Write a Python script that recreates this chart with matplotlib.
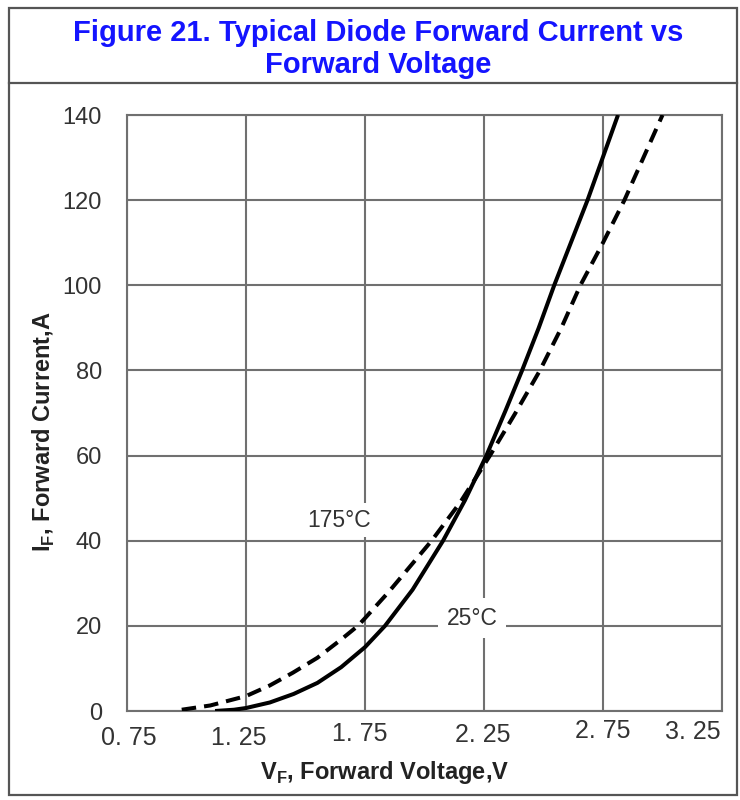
import matplotlib
matplotlib.use("Agg")
import matplotlib.pyplot as plt
from matplotlib.patches import Rectangle
from matplotlib.lines import Line2D
import matplotlib.transforms as mtransforms

# ---- data ----
title_text = "Figure 21. Typical Diode Forward Current vs\nForward Voltage"
x_ticks = [0.75, 1.25, 1.75, 2.25, 2.75, 3.25]
x_ticklabels = ["0. 75", "1. 25", "1. 75", "2. 25", "2. 75", "3. 25"]
y_ticks = [0, 20, 40, 60, 80, 100, 120, 140]

v_25 = [1.12, 1.20, 1.25, 1.35, 1.45, 1.55, 1.65, 1.75, 1.834, 1.95, 2.078, 2.17, 2.26, 2.34, 2.41, 2.48, 2.545, 2.685, 2.813]
i_25 = [0.0, 0.3, 0.7, 2.0, 4.0, 6.6, 10.3, 15.0, 20.0, 28.5, 40.0, 49.5, 60.0, 70.5, 80.0, 90.0, 100.0, 120.0, 140.0]

v_175 = [0.98, 1.10, 1.25, 1.35, 1.447, 1.55, 1.65, 1.72, 1.75, 1.85, 2.03, 2.15, 2.275, 2.38, 2.485, 2.575, 2.655, 2.75, 2.84, 3.00]
i_175 = [0.3, 1.3, 3.5, 6.0, 9.0, 12.5, 16.8, 20.0, 21.8, 28.0, 40.0, 49.0, 60.0, 69.8, 80.0, 90.0, 100.0, 110.0, 120.0, 140.0]

label_175 = "175\u00b0C"
label_25 = "25\u00b0C"

# ---- figure ----
plt.rcParams['font.family'] = ['Liberation Sans', 'DejaVu Sans']
W, H = 740, 800
fig = plt.figure(figsize=(7.4, 8.0), dpi=100)

# outer border and title separator
fig.patches.append(Rectangle((9 / W, 1 - 795 / H), 728 / W, 787 / H, transform=fig.transFigure,
                             fill=False, edgecolor='#555555', linewidth=1.6))
fig.lines.append(Line2D([9 / W, 737 / W], [1 - 83 / H, 1 - 83 / H], transform=fig.transFigure,
                        color='#555555', linewidth=1.6))
fig.text(378 / W, 1 - 49 / H, title_text, ha='center', va='center', color='#1414ff',
         fontsize=21, fontweight='bold', linespacing=1.22)

ax = fig.add_axes([127 / W, 1 - 711 / H, 595 / W, 596 / H])
ax.set_xlim(0.75, 3.25)
ax.set_ylim(0, 140)

grid_c = '#707070'
ax.set_xticks(x_ticks)
ax.set_xticklabels(x_ticklabels)
ax.set_yticks(y_ticks)
ax.grid(True, color=grid_c, linewidth=1.5)
ax.set_axisbelow(True)
for s in ax.spines.values():
    s.set_color(grid_c)
    s.set_linewidth(1.5)
ax.tick_params(axis='both', length=0, labelcolor='#333333')
ax.tick_params(axis='y', pad=18, labelsize=17)
ax.tick_params(axis='x', pad=11, labelsize=18)

# per-label offsets (pixels) to mimic the scanned layout
x_off = [(2, 0), (-7, 0), (-5, 4), (-1, 3), (0, 7), (-29, 6)]
for lab, (dx, dy) in zip(ax.get_xticklabels(), x_off):
    lab.set_transform(lab.get_transform() + mtransforms.ScaledTranslation(dx / 100, dy / 100, fig.dpi_scale_trans))

ax.plot(v_25, i_25, color='black', linewidth=2.9, solid_capstyle='butt', solid_joinstyle='round', zorder=3)
ax.plot(v_175, i_175, color='black', linewidth=2.9, linestyle=(0, (3.6, 2.0)), zorder=3)

ax.text(1.641, 44.8, label_175, ha='center', va='center', fontsize=16.5, color='#333333', zorder=4,
        bbox=dict(facecolor='white', edgecolor='none', pad=4))
ax.text(2.20, 21.8, label_25, ha='center', va='center', fontsize=16.5, color='#333333', zorder=4,
        bbox=dict(facecolor='white', edgecolor='none', pad=6))

fig.text(385 / W, 1 - 773 / H, "V$_\\mathregular{F}$, Forward Voltage,V", ha='center', va='center',
         fontsize=17, fontweight='bold', color='#222222')
fig.text(44 / W, 1 - 432 / H, "I$_\\mathregular{F}$, Forward Current,A", ha='center', va='center',
         rotation=90, fontsize=17, fontweight='bold', color='#222222')

fig.savefig("out.png", dpi=100)
